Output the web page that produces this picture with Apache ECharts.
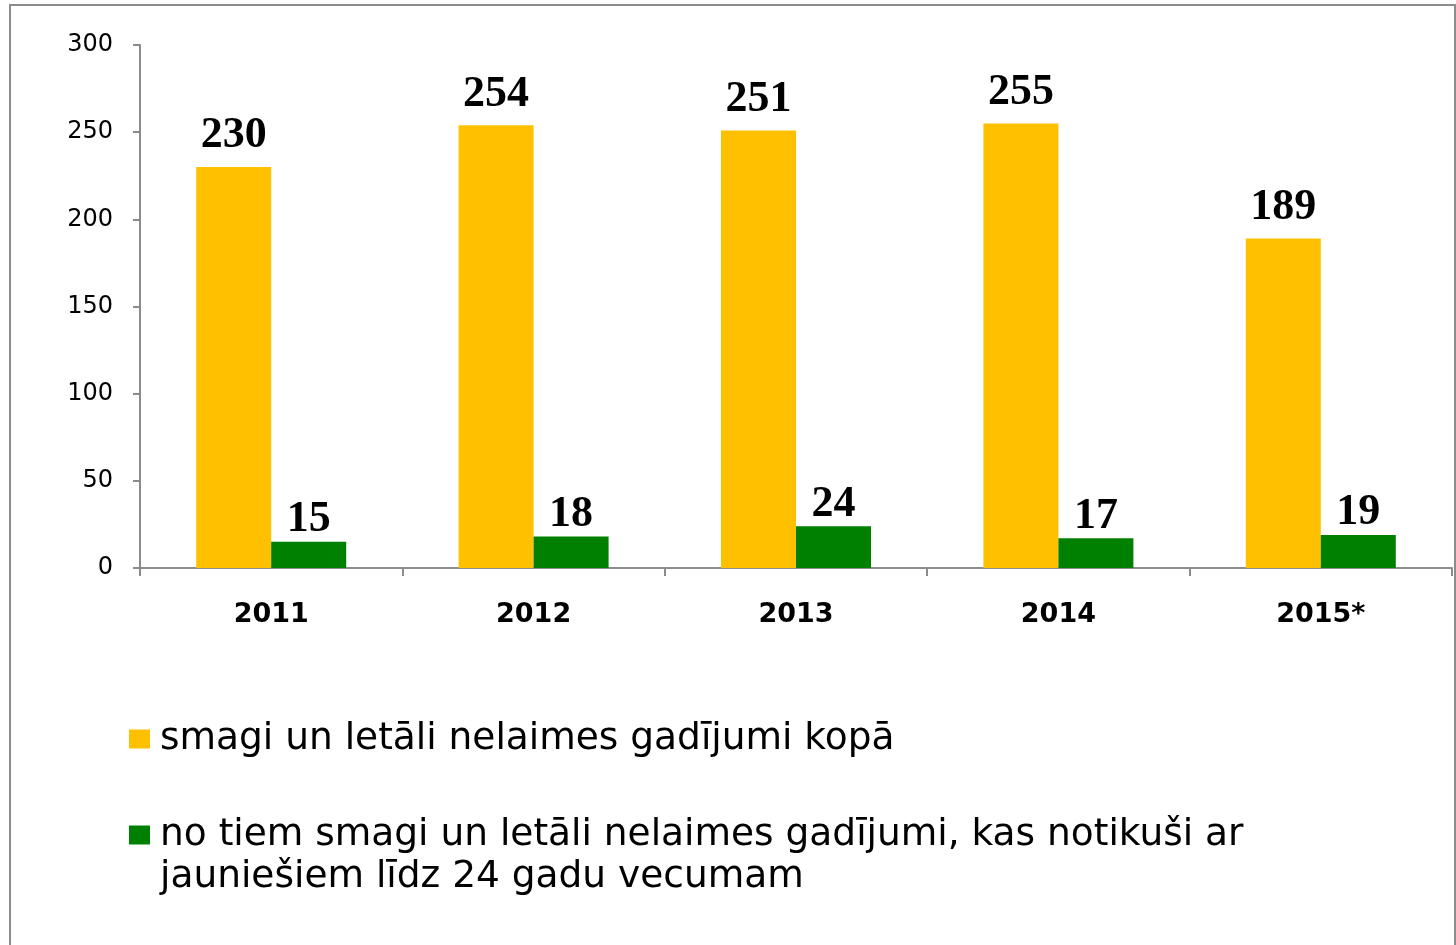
<!DOCTYPE html>
<html>
<head>
<meta charset="utf-8">
<style>
  html, body { margin: 0; padding: 0; background: #fff; }
  #chart { width: 1456px; height: 945px; }
</style>
<script src="https://cdn.jsdelivr.net/npm/echarts@6/dist/echarts.min.js"></script>
</head>
<body>
<div id="chart"></div>
<script>
var years = ['2011', '2012', '2013', '2014', '2015*'];
var totalCases = [230, 254, 251, 255, 189];
var youthCases = [15, 18, 24, 17, 19];
var seriesNames = [
  'smagi un letāli nelaimes gadījumi kopā',
  'no tiem smagi un letāli nelaimes gadījumi, kas notikuši ar\njauniešiem līdz 24 gadu vecumam'
];
var yTicks = { min: 0, max: 300, interval: 50 };

(function(){
  var axisGray = '#8c8c8c';
  var sans = 'DejaVu Sans';
  var serif = 'Liberation Serif';
  var legendText = { fontFamily: sans, fontSize: 37.5, color: '#000', lineHeight: 42, padding: [0, 0, 0, 5] };

  var chart = echarts.init(document.getElementById('chart'), null, { renderer: 'canvas' });
  chart.setOption({
    animation: false,
    backgroundColor: '#fff',
    graphic: [{
      type: 'rect',
      shape: { x: 10, y: 5, width: 1445, height: 1000 },
      style: { fill: 'none', stroke: axisGray, lineWidth: 2 },
      silent: true
    }],
    grid: { left: 140, right: 4, top: 45, bottom: 377 },
    legend: [
      {
        data: [seriesNames[0]],
        left: 129, top: 718, padding: 0,
        itemWidth: 21, itemHeight: 19,
        icon: 'rect',
        textStyle: legendText
      },
      {
        // blank first line keeps the icon level with the first text line
        data: [seriesNames[1]],
        formatter: function(name){ return '\n' + name; },
        left: 129, top: 772, padding: 0,
        itemWidth: 21, itemHeight: 19,
        icon: 'rect',
        textStyle: legendText
      }
    ],
    xAxis: {
      type: 'category',
      data: years,
      axisLine: { lineStyle: { color: axisGray, width: 2 } },
      axisTick: { show: true, length: 8, lineStyle: { color: axisGray, width: 2 } },
      axisLabel: { color: '#000', fontFamily: sans, fontSize: 27, fontWeight: 'bold', margin: 33 }
    },
    yAxis: {
      type: 'value',
      min: yTicks.min, max: yTicks.max, interval: yTicks.interval,
      axisLine: { show: true, lineStyle: { color: axisGray, width: 2 } },
      axisTick: { show: true, length: 7, lineStyle: { color: axisGray, width: 2 } },
      splitLine: { show: false },
      axisLabel: { color: '#000', fontFamily: sans, fontSize: 24, margin: 27 }
    },
    series: [
      {
        name: seriesNames[0],
        type: 'bar',
        data: totalCases,
        barWidth: 75,
        barGap: '0%',
        itemStyle: { color: '#FFC000' },
        label: { show: true, position: 'top', distance: 9, color: '#000',
                 fontFamily: serif, fontSize: 44, fontWeight: 'bold' }
      },
      {
        name: seriesNames[1],
        type: 'bar',
        data: youthCases,
        barWidth: 75,
        barGap: '0%',
        itemStyle: { color: '#008000' },
        label: { show: true, position: 'top', distance: 0, color: '#000',
                 fontFamily: serif, fontSize: 44, fontWeight: 'bold' }
      }
    ]
  });
  window.addEventListener('resize', function(){ chart.resize(); });
})();
</script>
</body>
</html>
